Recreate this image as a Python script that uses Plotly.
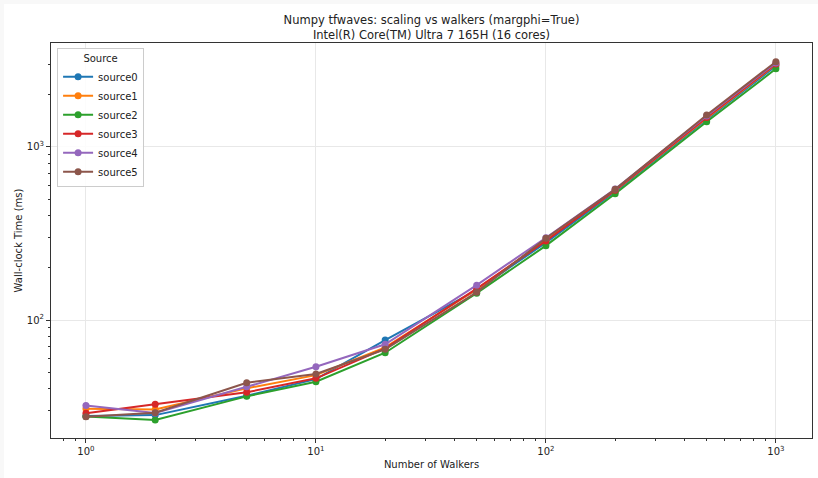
import numpy as np
import plotly.graph_objects as go

walkers = [1, 2, 5, 10, 20, 50, 100, 200, 500, 1000]
series_names = ["source0", "source1", "source2", "source3", "source4", "source5"]
source0 = [27.9, 28.2, 36.5, 45.5, 76.6, 149, 280, 552, 1440, 2940]
source1 = [30.7, 30.4, 40.3, 48.0, 69.5, 150, 290, 560, 1465, 3000]
source2 = [27.7, 26.4, 36.2, 44.0, 64.7, 143, 269, 537, 1400, 2830]
source3 = [28.9, 32.6, 38.2, 46.0, 68.5, 152, 286, 562, 1480, 3020]
source4 = [32.1, 29.0, 41.1, 53.7, 72.4, 159, 299, 572, 1510, 3060]
source5 = [27.6, 29.1, 43.4, 48.7, 67.7, 144.5, 297, 569, 1531, 3110]
colors = ["#1f77b4", "#ff7f0e", "#2ca02c", "#d62728", "#9467bd", "#8c564b"]

x_major = [1, 10, 100, 1000]
x_major_text = ["10<sup>0</sup>", "10<sup>1</sup>", "10<sup>2</sup>", "10<sup>3</sup>"]
y_major = [100, 1000]
y_major_text = ["10<sup>2</sup>", "10<sup>3</sup>"]

title = "Numpy tfwaves: scaling vs walkers (margphi=True)<br>Intel(R) Core(TM) Ultra 7 165H (16 cores)"

data = [source0, source1, source2, source3, source4, source5]

fig = go.Figure()
for name, vals, c in zip(series_names, data, colors):
    fig.add_trace(go.Scatter(
        x=walkers, y=vals, name=name, mode="lines+markers",
        line=dict(color=c, width=2), marker=dict(color=c, size=7),
    ))

x_minor = [m * 10 ** e for e in range(-1, 4) for m in range(2, 10)]
y_minor = [m * 10 ** e for e in range(1, 4) for m in range(2, 10)]

axis_common = dict(
    type="log", showline=True, linecolor="#333333", linewidth=1, mirror=True,
    ticks="outside", ticklen=4, tickcolor="#333333", tickwidth=1,
    showgrid=True, gridcolor="#e8e8e8", gridwidth=1, zeroline=False,
    tickfont=dict(size=10, color="#222222"),
)

fig.update_xaxes(
    **axis_common,
    range=[-0.152, 3.157],
    tickmode="array", tickvals=x_major, ticktext=x_major_text,
    minor=dict(tickmode="array", tickvals=x_minor, ticks="outside", ticklen=2,
               tickcolor="#333333", showgrid=False),
    title=dict(text="Number of Walkers", font=dict(size=10, color="#222222"), standoff=4),
)
fig.update_yaxes(
    **axis_common,
    range=[1.318, 3.601],
    tickmode="array", tickvals=y_major, ticktext=y_major_text,
    minor=dict(tickmode="array", tickvals=y_minor, ticks="outside", ticklen=2,
               tickcolor="#333333", showgrid=False),
    title=dict(text="Wall-clock Time (ms)", font=dict(size=10, color="#222222"), standoff=2),
)

fig.update_layout(
    width=814, height=474,
    margin=dict(l=47, r=6, t=39, b=40),
    paper_bgcolor="white", plot_bgcolor="white",
    font=dict(family="DejaVu Sans", size=10, color="#222222"),
    title=dict(text=title, x=0.5, xref="paper", xanchor="center",
               y=1, yref="paper", yanchor="bottom", pad=dict(b=19),
               font=dict(size=11.5, color="#222222")),
    legend=dict(
        title=dict(text="Source", side="top center", font=dict(size=10)),
        x=0.008, y=0.987, xanchor="left", yanchor="top",
        bgcolor="rgba(255,255,255,0.85)", bordercolor="#cccccc", borderwidth=1,
        font=dict(size=10), itemwidth=30, tracegroupgap=0,
    ),
    showlegend=True,
)

fig.write_html(
    "out.html",
    post_script="document.body.style.margin='4px 0 0 4px';document.body.style.background='#f8f8f8';",
)
